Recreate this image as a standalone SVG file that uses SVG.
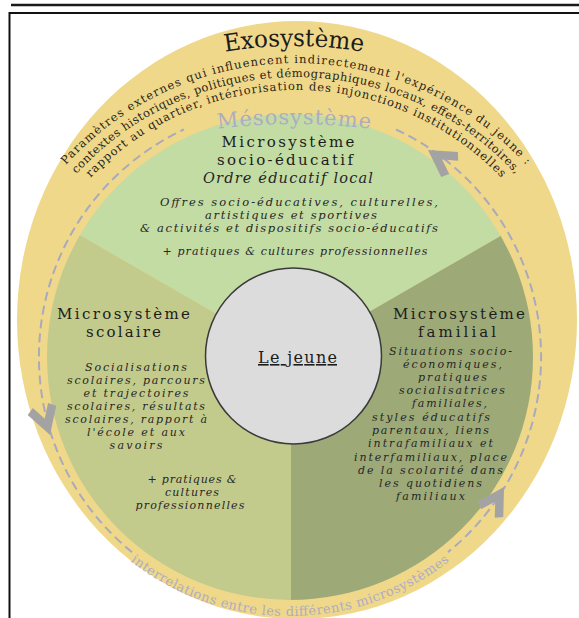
<svg xmlns="http://www.w3.org/2000/svg" width="579" height="618" viewBox="0 0 579 618">
<style>
.t{font-family:"DejaVu Serif","Liberation Serif",serif;fill:#1c1c1c;text-anchor:middle}
.h{font-size:15px}
.i{font-style:italic;font-size:11px;fill:#262626}
.arc{font-family:"DejaVu Serif","Liberation Serif",serif;font-size:11.5px;fill:#2a2418;text-anchor:middle}
.meso{font-family:"DejaVu Serif","Liberation Serif",serif;fill:#adacc2;text-anchor:middle}
.dash{fill:none;stroke:#a8aabd;stroke-width:2;stroke-dasharray:9 5}
.arrow{fill:#a3a3a3}
</style>
<defs>
<clipPath id="disc"><circle cx="290" cy="357" r="243"/></clipPath>
<path id="chev" d="M0,0 L-26,-15 L-31,-8 L-17,0 L-31,8 L-26,15 Z"/>
<path id="pExo" d="M -126 466 A 420 420 0 0 1 714 466"/>
<path id="p1" d="M -15 374 A 311 311 0 0 1 607 374"/>
<path id="p2" d="M -1 374 A 297 297 0 0 1 593 374"/>
<path id="p3" d="M 12 374 A 284 284 0 0 1 580 374"/>
<path id="pMeso" d="M -306 724 A 600 600 0 0 1 894 724"/>
<path id="pBot" d="M 31 357 A 259 259 0 0 0 549 357"/>
</defs>
<rect width="579" height="618" fill="#ffffff"/>
<g id="cadre">
<line x1="11" y1="5" x2="579" y2="5" stroke="#1a1a1a" stroke-width="2.5"/>
<rect x="9.5" y="13" width="620" height="700" fill="none" stroke="#111" stroke-width="2"/>
</g>
<g id="exosysteme">
<ellipse cx="297" cy="320" rx="280" ry="299" fill="#f0d88a"/>
<text class="t" font-size="24"><textPath href="#pExo" startOffset="50%" textLength="139" lengthAdjust="spacingAndGlyphs">Exosystème</textPath></text>
<text class="arc"><textPath href="#p1" startOffset="50%" textLength="518">Paramètres externes qui influencent indirectement l'expérience du jeune :</textPath></text>
<text class="arc"><textPath href="#p2" startOffset="50%" textLength="494">contextes historiques, politiques et démographiques locaux, effets-territoires,</textPath></text>
<text class="arc"><textPath href="#p3" startOffset="50%" textLength="459">rapport au quartier, intériorisation des injonctions institutionnelles</textPath></text>
</g>
<g id="microsystemes" clip-path="url(#disc)">
<path id="secteur-socio" d="M291,357 L-200,73.5 L-200,-100 L800,-100 L800,63.1 Z" fill="#c3dca4"/>
<path id="secteur-scolaire" d="M291,357 L291,800 L-200,800 L-200,73.5 Z" fill="#c3cb8c"/>
<path id="secteur-familial" d="M291,357 L800,63.1 L800,800 L291,800 Z" fill="#9daa78"/>
</g>
<g id="mesosysteme">
<text class="meso" font-size="21"><textPath href="#pMeso" startOffset="50%" textLength="153">Mésosystème</textPath></text>
<text class="meso" font-size="13"><textPath href="#pBot" startOffset="50%" textLength="344">interrelations entre les différents microsystèmes</textPath></text>
</g>
<g id="connecteurs">
<path class="dash" d="M 396.1 129.5 A 251 251 0 0 1 448 552.1"/>
<path class="dash" d="M 132 552.1 A 251 251 0 0 1 183.9 129.5"/>
<use href="#chev" class="arrow" transform="translate(428,150) rotate(-146)"/>
<use href="#chev" class="arrow" transform="translate(50,435) rotate(72)"/>
<use href="#chev" class="arrow" transform="translate(504,487) rotate(-58.7)"/>
</g>
<g id="micro-socio-educatif">
<text class="t h" x="288" y="147" textLength="133">Microsystème</text>
<text class="t h" x="285" y="165" textLength="136">socio-éducatif</text>
<text class="t i" x="288" y="183" style="font-size:14.5px" textLength="170">Ordre éducatif local</text>
<text class="t i" x="299" y="206" style="font-size:11.5px" textLength="278">Offres socio-éducatives, culturelles,</text>
<text class="t i" x="291" y="219" style="font-size:11.5px" textLength="172">artistiques et sportives</text>
<text class="t i" x="289" y="232" style="font-size:11.5px" textLength="298">&amp; activités et dispositifs socio-éducatifs</text>
<text class="t i" x="295" y="255" textLength="265">+ pratiques &amp; cultures professionnelles</text>
</g>
<g id="micro-scolaire">
<text class="t h" x="123.5" y="318.5" textLength="133">Microsystème</text>
<text class="t h" x="123.5" y="337" textLength="75">scolaire</text>
<text class="t i" x="136" y="370.5" textLength="102">Socialisations</text>
<text class="t i" x="136" y="383.5" textLength="138">scolaires, parcours</text>
<text class="t i" x="136" y="396.5" textLength="105">et trajectoires</text>
<text class="t i" x="136" y="409.5" textLength="138">scolaires, résultats</text>
<text class="t i" x="136" y="422.5" textLength="142">scolaires, rapport à</text>
<text class="t i" x="136" y="435.5" textLength="98">l'école et aux</text>
<text class="t i" x="136" y="448.5" textLength="53">savoirs</text>
<text class="t i" x="192" y="482.5" textLength="89">+ pratiques &amp;</text>
<text class="t i" x="192" y="495.5" textLength="54">cultures</text>
<text class="t i" x="190" y="508.5" textLength="109">professionnelles</text>
</g>
<g id="micro-familial">
<text class="t h" x="459" y="318.5" textLength="132">Microsystème</text>
<text class="t h" x="457" y="337" textLength="78">familial</text>
<text class="t i" x="450.5" y="355" textLength="123">Situations socio-</text>
<text class="t i" x="452.5" y="368" textLength="99">économiques,</text>
<text class="t i" x="452.5" y="381" textLength="69">pratiques</text>
<text class="t i" x="452" y="394" textLength="106">socialisatrices</text>
<text class="t i" x="449.5" y="407" textLength="75">familiales,</text>
<text class="t i" x="431" y="420.5" textLength="118">styles éducatifs</text>
<text class="t i" x="430.5" y="434" textLength="117">parentaux, liens</text>
<text class="t i" x="430.5" y="447" textLength="125">intrafamiliaux et</text>
<text class="t i" x="430.5" y="460.5" textLength="153">interfamiliaux, place</text>
<text class="t i" x="430.5" y="474" textLength="145">de la scolarité dans</text>
<text class="t i" x="430.5" y="487" textLength="103">les quotidiens</text>
<text class="t i" x="430.5" y="500" textLength="69">familiaux</text>
</g>
<g id="le-jeune">
<circle cx="293.5" cy="356" r="88" fill="#dcdcdc" stroke="#3a3a3a" stroke-width="1.5"/>
<text class="t" x="297.5" y="363" font-size="16" textLength="79" text-decoration="underline">Le jeune</text>
</g>
</svg>
